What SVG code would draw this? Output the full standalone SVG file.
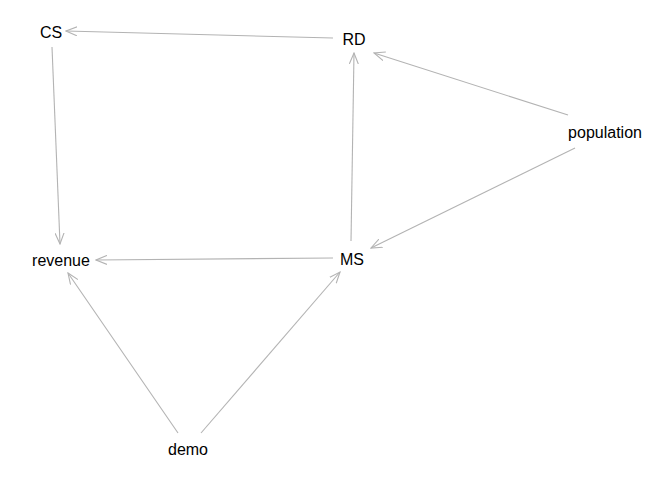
<svg xmlns="http://www.w3.org/2000/svg" width="672" height="480" viewBox="0 0 672 480">
<style>
.n text{font-family:"Liberation Sans",Arial,sans-serif;font-size:16px;fill:#000;text-anchor:middle;dominant-baseline:central}
.e line{stroke:#b3b3b3;stroke-width:1.1;fill:none;marker-end:url(#a)}
</style>
<defs>
<marker id="a" viewBox="0 0 12 10" refX="11" refY="5" markerWidth="12" markerHeight="10" markerUnits="userSpaceOnUse" orient="auto">
<path d="M0,0.5 L11,5 L0,9.5" fill="none" stroke="#b3b3b3" stroke-width="1.1"/>
</marker>
</defs>
<rect width="672" height="480" fill="#fff"/>
<g class="e" id="edges">
<line x1="333" y1="38" x2="66" y2="31"/>
<line x1="52" y1="47" x2="60" y2="244"/>
<line x1="351" y1="241" x2="354" y2="53"/>
<line x1="568" y1="115" x2="374" y2="53"/>
<line x1="575" y1="148" x2="371" y2="248"/>
<line x1="333" y1="258" x2="96" y2="260"/>
<line x1="178" y1="433" x2="68" y2="273"/>
<line x1="201" y1="433" x2="340" y2="272"/>
</g>
<g class="n" id="CS"><text x="51" y="32">CS</text></g>
<g class="n" id="RD"><text x="354" y="39">RD</text></g>
<g class="n" id="population"><text x="605" y="132">population</text></g>
<g class="n" id="revenue"><text x="61" y="260">revenue</text></g>
<g class="n" id="MS"><text x="352" y="259">MS</text></g>
<g class="n" id="demo"><text x="188" y="449">demo</text></g>
</svg>
